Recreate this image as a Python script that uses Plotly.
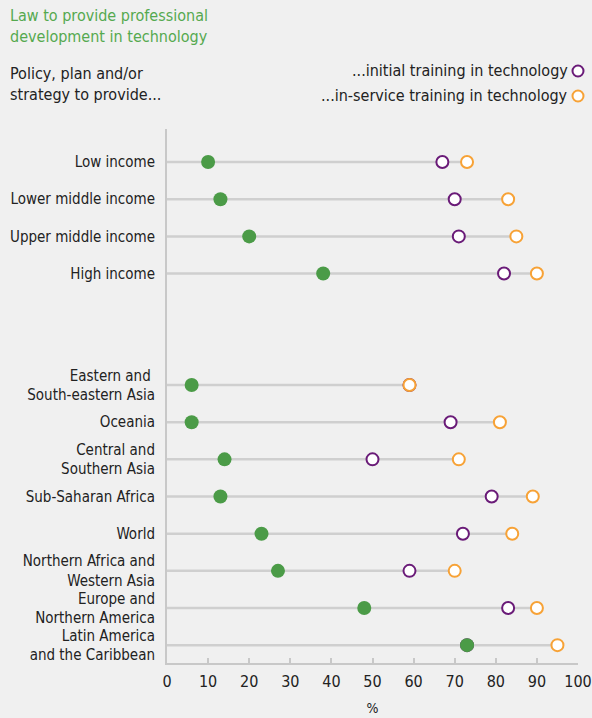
import plotly.graph_objects as go

# Country groups / regions, top to bottom; "" rows are the spacer between the two blocks
categories = [
    "Low income",
    "Lower middle income",
    "Upper middle income",
    "High income",
    "",
    "",
    "Eastern and <br>South-eastern Asia",
    "Oceania",
    "Central and<br>Southern Asia",
    "Sub-Saharan Africa",
    "World",
    "Northern Africa and<br>Western Asia",
    "Europe and<br>Northern America",
    "Latin America<br>and the Caribbean",
]

# Share of countries (%); None for the spacer rows
law_values = [10, 13, 20, 38, None, None, 6, 6, 14, 13, 23, 27, 48, 73]
initial_values = [67, 70, 71, 82, None, None, 59, 69, 50, 79, 72, 59, 83, 73]
inservice_values = [73, 83, 85, 90, None, None, 59, 81, 71, 89, 84, 70, 90, 95]

x_ticks = [0, 10, 20, 30, 40, 50, 60, 70, 80, 90, 100]

FONT = "Liberation Sans Narrow, DejaVu Sans Condensed, Open Sans, sans-serif"
GREEN = "#4b9b47"
PURPLE = "#6a1b78"
ORANGE = "#f7a236"
GREY_LINE = "#cfcfcf"
BG = "#f0f0f0"

rows = list(range(len(categories)))
kept = [i for i in rows if categories[i]]

# connector lines from 0 to the highest value in each row
line_x, line_y = [], []
for i in kept:
    top = max(v for v in (law_values[i], initial_values[i], inservice_values[i]) if v is not None)
    line_x += [0, top, None]
    line_y += [i, i, None]

fig = go.Figure()
fig.add_trace(go.Scatter(
    x=line_x, y=line_y, mode="lines",
    line=dict(color=GREY_LINE, width=2.5),
    hoverinfo="skip", showlegend=False,
))
fig.add_trace(go.Scatter(
    x=[initial_values[i] for i in kept], y=kept, mode="markers",
    marker=dict(symbol="circle", size=12, color="white",
                line=dict(color=PURPLE, width=2)),
    name="...initial training in technology", showlegend=False,
))
fig.add_trace(go.Scatter(
    x=[inservice_values[i] for i in kept], y=kept, mode="markers",
    marker=dict(symbol="circle", size=12, color="white",
                line=dict(color=ORANGE, width=2)),
    name="...in-service training in technology", showlegend=False,
))
fig.add_trace(go.Scatter(
    x=[law_values[i] for i in kept], y=kept, mode="markers",
    marker=dict(symbol="circle", size=14, color=GREEN, line=dict(width=0)),
    name="Law to provide professional development in technology", showlegend=False,
))

PW, PH = 411, 534  # plot area size in pixels

fig.update_layout(
    width=592, height=718,
    margin=dict(l=167, r=14, t=129, b=55),
    paper_bgcolor=BG, plot_bgcolor=BG,
    font=dict(family=FONT, size=15, color="#222222"),
    xaxis=dict(
        range=[0, 100], tickvals=x_ticks, ticktext=[str(t) for t in x_ticks],
        showgrid=False, zeroline=False, automargin=False,
        showline=True, linecolor="#c8c8c8", linewidth=2,
        ticks="inside", ticklen=5, tickcolor="#c8c8c8", tickwidth=1.5,
        ticklabelstandoff=3,
        tickfont=dict(size=16, color="#222222"),
        title=dict(text="%", font=dict(size=14, color="#222222"), standoff=13),
        fixedrange=True,
    ),
    yaxis=dict(
        range=[13.48, -0.89],
        tickvals=kept, ticktext=[categories[i] for i in kept],
        showgrid=False, zeroline=False, automargin=False,
        showline=True, linecolor="#c8c8c8", linewidth=2,
        ticks="", ticklabelstandoff=7,
        tickfont=dict(size=15, color="#222222"),
        fixedrange=True,
    ),
    annotations=[
        dict(text="Law to provide professional<br>development in technology",
             xref="paper", yref="paper", x=-159 / PW, y=1 + 125 / PH,
             xanchor="left", yanchor="top", align="left", showarrow=False,
             font=dict(size=16, color="#55a94f")),
        dict(text="Policy, plan and/or<br>strategy to provide...",
             xref="paper", yref="paper", x=-159 / PW, y=1 + 67 / PH,
             xanchor="left", yanchor="top", align="left", showarrow=False,
             font=dict(size=16, color="#222222")),
        dict(text="...initial training in technology",
             xref="paper", yref="paper", x=1 - 8 / PW, y=1 + 58 / PH,
             xanchor="right", yanchor="middle", align="right", showarrow=False,
             font=dict(size=16, color="#222222")),
        dict(text="...in-service training in technology",
             xref="paper", yref="paper", x=1 - 8 / PW, y=1 + 33 / PH,
             xanchor="right", yanchor="middle", align="right", showarrow=False,
             font=dict(size=16, color="#222222")),
    ],
    shapes=[
        dict(type="circle", xref="paper", yref="paper",
             xsizemode="pixel", ysizemode="pixel",
             xanchor=1, yanchor=1 + 58 / PH,
             x0=-5.5, x1=5.5, y0=-5.5, y1=5.5,
             line=dict(color=PURPLE, width=2), fillcolor="white"),
        dict(type="circle", xref="paper", yref="paper",
             xsizemode="pixel", ysizemode="pixel",
             xanchor=1, yanchor=1 + 33 / PH,
             x0=-5.5, x1=5.5, y0=-5.5, y1=5.5,
             line=dict(color=ORANGE, width=2), fillcolor="white"),
    ],
)

fig.write_html("out.html")
